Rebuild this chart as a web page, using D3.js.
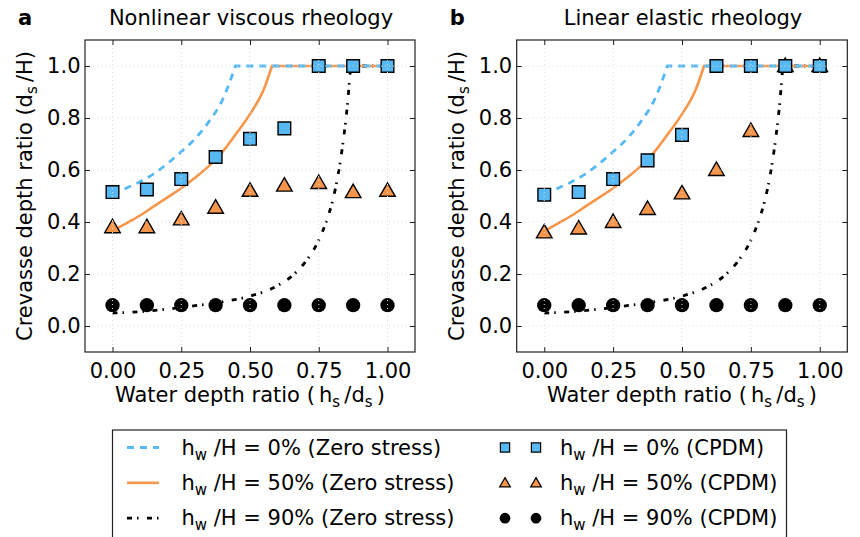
<!DOCTYPE html>
<html><head><meta charset="utf-8">
<script src="https://cdn.jsdelivr.net/npm/d3@7"></script>
<style>body{margin:0;background:#fff} svg{font-family:"DejaVu Sans",sans-serif;}</style>
</head><body><svg id="c" width="860" height="537"></svg>
<script>
// ---------- data ----------
const waterRatio = [0, 0.125, 0.25, 0.375, 0.5, 0.625, 0.75, 0.875, 1.0];
// CPDM, nonlinear viscous (panel a)
const viscous0 = [0.515, 0.525, 0.565, 0.65, 0.72, 0.76, 1.0, 1.0, 1.0];
const viscous50 = [0.38, 0.38, 0.41, 0.455, 0.52, 0.54, 0.55, 0.515, 0.52];
const viscous90 = [0.08, 0.08, 0.08, 0.08, 0.08, 0.08, 0.08, 0.08, 0.08];
// CPDM, linear elastic (panel b)
const elastic0 = [0.505, 0.515, 0.565, 0.637, 0.735, 1.0, 1.0, 1.0, 1.0];
const elastic50 = [0.36, 0.375, 0.40, 0.45, 0.51, 0.60, 0.75, 1.0, 1.0];
const elastic90 = [0.08, 0.08, 0.08, 0.08, 0.08, 0.08, 0.08, 0.08, 0.08];
// Zero stress curves: rising part [water depth ratio, crevasse depth ratio]; then flat at 1.0 up to x = 1
const zero0 = [[0,0.51],[0.05,0.53],[0.1,0.555],[0.15,0.585],[0.2,0.625],[0.25,0.67],[0.3,0.72],[0.35,0.785],[0.4,0.87],[0.447,1.0]];
const zero50 = [[0,0.365],[0.05,0.395],[0.1,0.425],[0.15,0.46],[0.2,0.495],[0.25,0.53],[0.3,0.57],[0.35,0.615],[0.4,0.67],[0.45,0.74],[0.5,0.815],[0.55,0.91],[0.58,1.0]];
const zero90 = [[0,0.05],[0.1,0.055],[0.2,0.065],[0.3,0.078],[0.4,0.093],[0.5,0.115],[0.6,0.155],[0.65,0.19],[0.7,0.245],[0.75,0.33],[0.78,0.41],[0.8,0.48],[0.82,0.58],[0.84,0.72],[0.855,0.86],[0.866,1.0]];
const zeroEnd = [1.0, 1.0];
const xTicks = [0, 0.25, 0.5, 0.75, 1.0];
const yTicks = [0, 0.2, 0.4, 0.6, 0.8, 1.0];
const panelLetters = ["a", "b"];
const panelTitles = ["Nonlinear viscous rheology", "Linear elastic rheology"];
const legendPcts = ["0%", "50%", "90%"];

// ---------- style ----------
const BLUE = "#56b9f3", ORANGE = "#f7964a", BLACK = "#000";
const FS = 21, SUB = 15;
const svg = d3.select("#c");
const plotTop = 40, plotBottom = 352;
const panels = [
  {left: 85, right: 415, d0: viscous0, d50: viscous50, d90: viscous90},
  {left: 516.7, right: 847.3, d0: elastic0, d50: elastic50, d90: elastic90}
];
const y = d3.scaleLinear().domain([-0.1, 1.1]).range([plotBottom, plotTop]);

panels.forEach((p, i) => {
  const x = d3.scaleLinear().domain([-0.1, 1.1]).range([p.left, p.right]);
  const g = svg.append("g");
  const fmtX = d3.format(".2f"), fmtY = d3.format(".1f");

  // curves
  const line = d3.line().x(d => x(d[0])).y(d => y(d[1])).curve(d3.curveMonotoneX);
  const curvePath = pts => line(pts) + `L${x(zeroEnd[0])},${y(zeroEnd[1])}`;
  g.append("path").attr("d", curvePath(zero90)).attr("fill", "none").attr("stroke", BLACK)
    .attr("stroke-width", 2.8).attr("stroke-dasharray", "5,5,1.5,8.5");
  g.append("path").attr("d", curvePath(zero50)).attr("fill", "none").attr("stroke", ORANGE)
    .attr("stroke-width", 2.6);
  g.append("path").attr("d", curvePath(zero0)).attr("fill", "none").attr("stroke", BLUE)
    .attr("stroke-width", 2.8).attr("stroke-dasharray", "7,6");

  // markers
  const sq = d3.symbol().type(d3.symbolSquare).size(160)();
  const tri = d3.symbol().type(d3.symbolTriangle).size(105)();
  const cir = d3.symbol().type(d3.symbolCircle).size(160)();
  g.selectAll(".c90").data(waterRatio).join("path").attr("d", cir)
    .attr("transform", (d, k) => `translate(${x(d)},${y(p.d90[k])})`).attr("fill", BLACK);
  g.selectAll(".t50").data(waterRatio).join("path").attr("d", tri)
    .attr("transform", (d, k) => `translate(${x(d)},${y(p.d50[k]) + 1})`)
    .attr("fill", ORANGE).attr("stroke", BLACK).attr("stroke-width", 1.4).attr("stroke-linejoin", "miter");
  g.selectAll(".s0").data(waterRatio).join("path").attr("d", sq)
    .attr("transform", (d, k) => `translate(${x(d)},${y(p.d0[k])})`)
    .attr("fill", BLUE).attr("stroke", BLACK).attr("stroke-width", 1.4);

  // grid (drawn on top, light dotted)
  g.selectAll(".gx").data(xTicks).join("line")
    .attr("x1", d => x(d)).attr("x2", d => x(d)).attr("y1", plotTop).attr("y2", plotBottom)
    .attr("stroke", "#dcdcdc").attr("stroke-width", 1).attr("stroke-dasharray", "1,3");
  g.selectAll(".gy").data(yTicks).join("line")
    .attr("y1", d => y(d)).attr("y2", d => y(d)).attr("x1", p.left).attr("x2", p.right)
    .attr("stroke", "#dcdcdc").attr("stroke-width", 1).attr("stroke-dasharray", "1,3");

  // axes with inward ticks on all four sides
  const ax = (axis, tr) => g.append("g").attr("transform", tr).call(axis)
    .call(s => s.select(".domain").remove())
    .call(s => s.selectAll("line").attr("stroke", "#222").attr("stroke-width", 1));
  ax(d3.axisBottom(x).tickValues(xTicks).tickSize(-5).tickPadding(11).tickFormat(fmtX), `translate(0,${plotBottom})`);
  ax(d3.axisTop(x).tickValues(xTicks).tickSize(-5).tickFormat(""), `translate(0,${plotTop})`);
  ax(d3.axisLeft(y).tickValues(yTicks).tickSize(-5).tickPadding(4.5).tickFormat(fmtY), `translate(${p.left},0)`);
  ax(d3.axisRight(y).tickValues(yTicks).tickSize(-5).tickFormat(""), `translate(${p.right},0)`);
  g.selectAll(".tick text").attr("font-family", "DejaVu Sans").attr("font-size", FS).attr("fill", "#000");

  g.append("rect").attr("x", p.left).attr("y", plotTop).attr("width", p.right - p.left)
    .attr("height", plotBottom - plotTop).attr("fill", "none").attr("stroke", "#222").attr("stroke-width", 1.2);

  // panel letter and title
  g.append("text").attr("x", p.left - 67).attr("y", 25).attr("font-size", FS)
    .attr("font-weight", "bold").text(panelLetters[i]);
  g.append("text").attr("x", (p.left + p.right) / 2 + 1).attr("y", 25).attr("text-anchor", "middle")
    .attr("font-size", FS).text(panelTitles[i]);

  // x label
  const xl = g.append("text").attr("x", (p.left + p.right) / 2).attr("y", 402)
    .attr("text-anchor", "middle").attr("font-size", FS);
  xl.append("tspan").text("Water depth ratio (\u2009h");
  xl.append("tspan").attr("font-size", SUB).attr("dy", 5).text("s");
  xl.append("tspan").attr("dy", -5).text("\u2009/d");
  xl.append("tspan").attr("font-size", SUB).attr("dy", 5).text("s");
  xl.append("tspan").attr("dy", -5).text("\u2009)");

  // y label
  const yl = g.append("text").attr("transform", `translate(${p.left - 53},${(plotTop + plotBottom) / 2}) rotate(-90)`)
    .attr("text-anchor", "middle").attr("font-size", FS);
  yl.append("tspan").text("Crevasse depth ratio (d");
  yl.append("tspan").attr("font-size", SUB).attr("dy", 5).text("s");
  yl.append("tspan").attr("dy", -5).text("\u2009/H)");
});

// ---------- legend ----------
const lg = svg.append("g");
lg.append("rect").attr("x", 112.5).attr("y", 430).attr("width", 674).attr("height", 130)
  .attr("fill", "#fff").attr("stroke", "#222").attr("stroke-width", 1.2);
const rowY = [447.5, 482.8, 518.2];
const lineStyles = [
  {c: BLUE, dash: "7,6", w: 2.8},
  {c: ORANGE, dash: null, w: 2.6},
  {c: BLACK, dash: "5,5,1.5,8.5", w: 2.8}
];
const legSyms = [
  {t: d3.symbolSquare, s: 85, f: BLUE, st: BLACK},
  {t: d3.symbolTriangle, s: 50, f: ORANGE, st: BLACK},
  {t: d3.symbolCircle, s: 90, f: BLACK, st: "none"}
];
const legText = (xx, yy, pct, tail) => {
  const t = lg.append("text").attr("x", xx).attr("y", yy + 7).attr("font-size", FS);
  t.append("tspan").text("h");
  t.append("tspan").attr("font-size", SUB).attr("dy", 5).text("w");
  t.append("tspan").attr("dy", -5).text(` /H = ${pct} (${tail})`);
};
rowY.forEach((ry, k) => {
  const ls = lineStyles[k];
  lg.append("line").attr("x1", 127).attr("x2", 159).attr("y1", ry).attr("y2", ry)
    .attr("stroke", ls.c).attr("stroke-width", ls.w).attr("stroke-dasharray", ls.dash);
  legText(181.5, ry, legendPcts[k], "Zero stress");
  const sy = legSyms[k];
  [505, 536].forEach(mx => {
    lg.append("path").attr("d", d3.symbol().type(sy.t).size(sy.s)())
      .attr("transform", `translate(${mx},${ry + (k === 1 ? 1 : 0)})`)
      .attr("fill", sy.f).attr("stroke", sy.st).attr("stroke-width", 1.2);
  });
  legText(560, ry, legendPcts[k], "CPDM");
});
</script></body></html>
